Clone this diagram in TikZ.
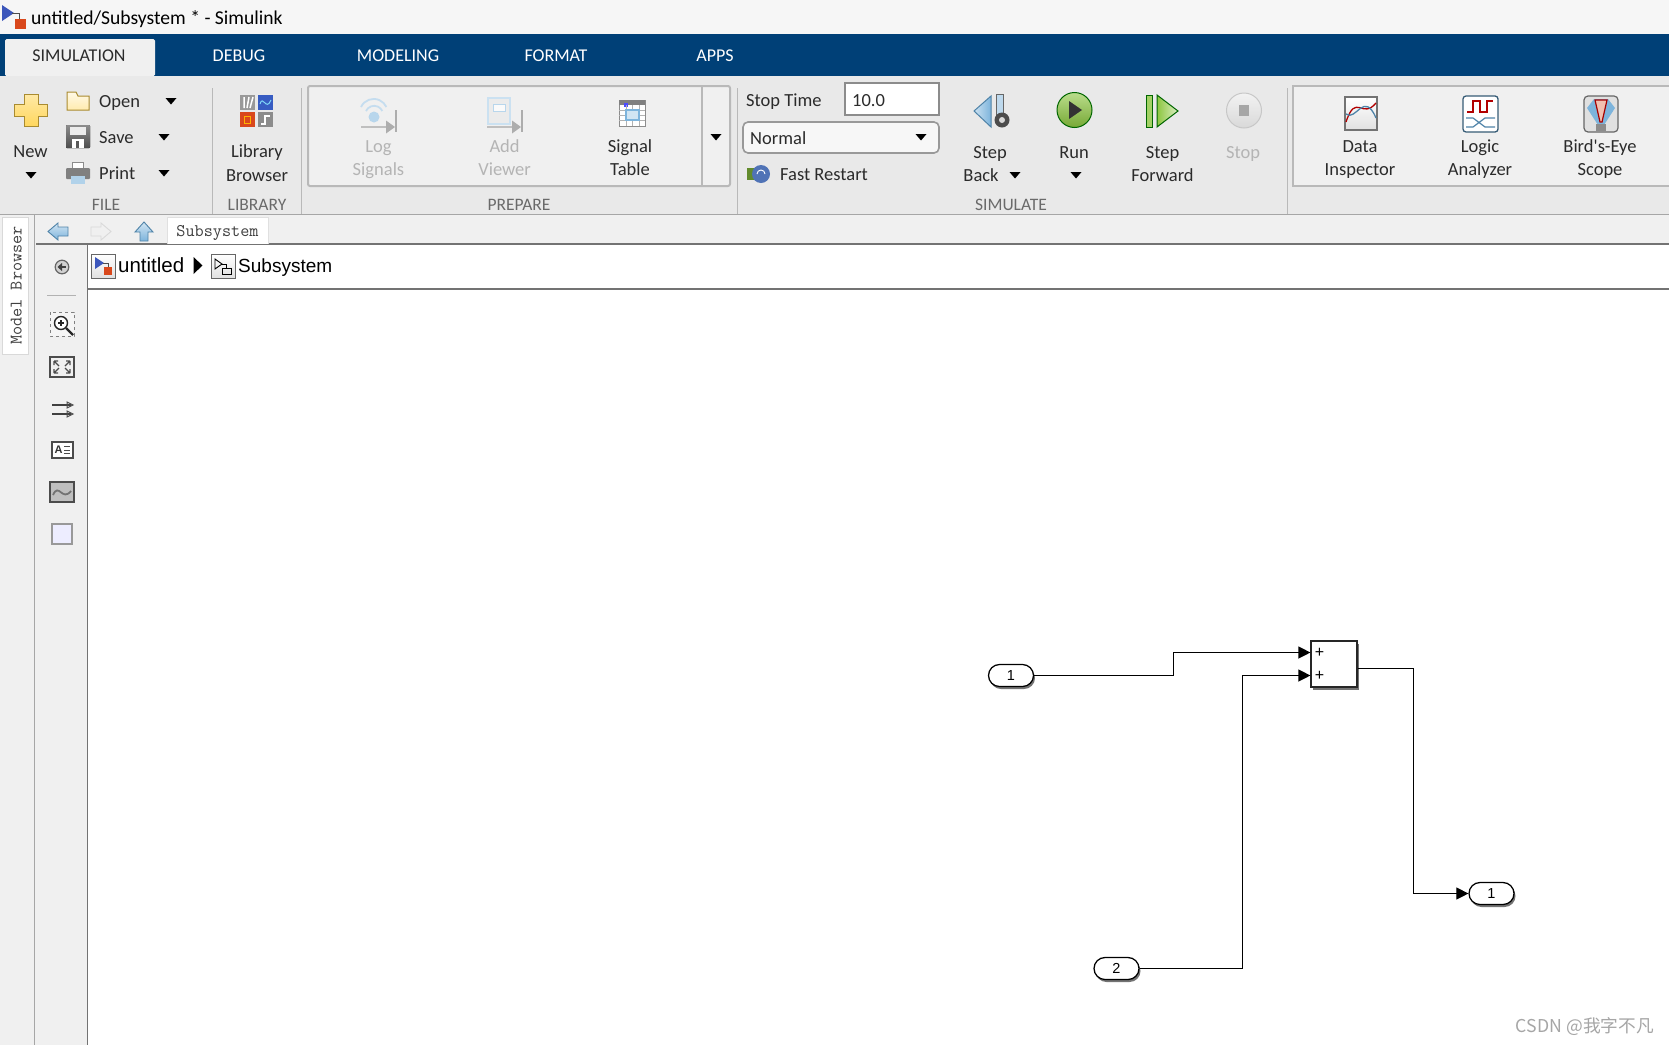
\documentclass[tikz,border=0pt]{standalone}
\usepackage{fontspec}
\usetikzlibrary{arrows.meta,shapes.misc,shadows,calc}
\setmainfont{Liberation Sans}
\newfontfamily\uifam{Carlito}
\newfontfamily\cjkfam{Noto Sans CJK SC}
\definecolor{bandblue}{HTML}{004077}
\definecolor{ribbon}{HTML}{E9E9E9}
\definecolor{paneg}{HTML}{F0F0F0}
\definecolor{rule}{HTML}{A6A6A6}
\definecolor{boxrule}{HTML}{B9B9B9}
\definecolor{uitext}{HTML}{2B2B2B}
\definecolor{dimtext}{HTML}{B4B4B4}
\definecolor{grouptext}{HTML}{6A6A6A}
\definecolor{iconblue}{HTML}{7DB4DC}
\definecolor{iconedge}{HTML}{4F83A8}
\definecolor{iconred}{HTML}{D9481C}
\definecolor{icongreen}{HTML}{8CC63F}
\definecolor{plusyellow}{HTML}{FFD75E}
\definecolor{plusedge}{HTML}{A98B30}
\tikzset{
  ui/.style={inner sep=0pt,text=uitext,text height=13pt,text depth=0pt,font=\uifam\fontsize{18.5}{22}\selectfont},
  uidim/.style={ui,text=dimtext},
  group/.style={ui,text=grouptext,font=\uifam\fontsize{17.5}{20}\selectfont},
  tabtext/.style={ui,text=white,font=\uifam\fontsize{18}{22}\selectfont},
  crumb/.style={inner sep=0pt,text=black,text height=14pt,text depth=0pt,font=\fontsize{19}{22}\selectfont},
  monotext/.style={inner sep=0pt,text=black!75,text height=12pt,text depth=0pt,font=\ttfamily\fontsize{17.7}{20}\selectfont},
  pill/.style={rounded rectangle,draw=black,line width=1.25pt,fill=white,minimum width=45pt,minimum height=22pt,inner sep=0pt,
    text height=10pt,text depth=0pt,font=\fontsize{14.5}{16}\selectfont,drop shadow={shadow xshift=1.5pt,shadow yshift=-2.5pt,opacity=.55,fill=black}},
  sumblock/.style={rectangle,draw=black!85,line width=1.2pt,fill=white,minimum width=46pt,minimum height=46pt,inner sep=0pt,
    drop shadow={shadow xshift=1.5pt,shadow yshift=-2.5pt,opacity=.55,fill=black}},
  portmark/.style={inner sep=0pt,font=\fontsize{16}{16}\selectfont},
  signal/.style={draw=black,line width=1.2pt,-{Triangle[length=12pt,width=12pt]}},
  sepline/.style={draw=rule,line width=1pt},
  toolframe/.style={draw=black!70,line width=1.1pt,fill=black!6},
}
\newcommand\dnarrow[1]{\fill[black] (#1) ++(-5.5,-3) -- ++(11,0) -- ++(-5.5,6.5) -- cycle;}
\begin{document}
\begin{tikzpicture}[x=1pt,y=-1pt,line join=miter]
\useasboundingbox (0,0) rectangle (1669,1045);
% --- backgrounds
\fill[white] (0,0) rectangle (1669,1045);
\fill[paneg!60!white] (0,0) rectangle (1669,34);
\fill[bandblue] (0,34) rectangle (1669,76);
\fill[ribbon] (0,76) rectangle (1669,214);
\fill[paneg] (0,214) rectangle (1669,244);
\fill[paneg] (0,244) rectangle (87,1045);
\draw[sepline] (0,214.5) -- (1669,214.5);
\draw[draw=black!55,line width=1.4pt] (36,244) -- (1669,244);
\draw[sepline] (34.5,214) -- (34.5,1045);
\draw[draw=black!55,line width=1.3pt] (87.8,244) -- (87.8,1045);
\draw[draw=black!55,line width=1.6pt] (88,289) -- (1669,289);
% --- title
\fill[iconblue!60!blue!80!black] (2,5) -- (14,13) -- (2,21) -- cycle;
\draw[black!70,line width=.8pt] (12,13) -- (19,13) -- (19,20);
\fill[iconred] (15,19) rectangle (26,29);
\node[ui,anchor=west,text=black,text height=15pt,font=\uifam\fontsize{19.6}{24}\selectfont] (title) at (31,16.5) {untitled/Subsystem * - Simulink};
% --- tabs
\fill[paneg,rounded corners=1.5pt] (5,76) -- (5,39) -- (155,39) -- (155,76) -- cycle;
\node[ui,font=\uifam\fontsize{18}{22}\selectfont] (tabsim) at (79,55) {SIMULATION};
\node[tabtext] (tabdebug) at (239,55) {DEBUG};
\node[tabtext] (tabmodel) at (398,55) {MODELING};
\node[tabtext] (tabformat) at (556,55) {FORMAT};
\node[tabtext] (tabapps) at (715,55) {APPS};
% --- separators in ribbon
\foreach \sx in {212,301.5,737,1287}{\draw[draw=boxrule,line width=1pt] (\sx,88) -- (\sx,214);}
% --- FILE group
\draw[draw=plusedge,line width=1pt,top color=plusyellow!55!white,bottom color=plusyellow]
  (24,94) -- (38,94) -- (38,104) -- (47.5,104) -- (47.5,116) -- (38,116) -- (38,126) -- (24,126) -- (24,116) -- (14.5,116) -- (14.5,104) -- (24,104) -- cycle;
\node[ui] (newtxt) at (30.5,151) {New};
\dnarrow{31,175}
\draw[draw=plusedge,line width=1pt,top color=plusyellow!15!white,bottom color=plusyellow!50!white] (67,110) -- (67,92) -- (76,92) -- (78,96) -- (89,96) -- (89,110) -- cycle;
\node[ui,anchor=west] (opentxt) at (99,101) {Open};
\dnarrow{171,101}
\fill[top color=black!45,bottom color=black!70,rounded corners=1pt] (66,125) rectangle (90,148);
\fill[black!8] (70,127) rectangle (86,135);
\fill[white] (72,139) rectangle (84,148);
\fill[black!65] (76,141) rectangle (79,148);
\node[ui,anchor=west] (savetxt) at (99,137) {Save};
\dnarrow{164,137}
\fill[black!45] (72,162) rectangle (84,170);
\fill[white] (73,163) rectangle (83,170);
\fill[black!50,rounded corners=1pt] (66,168) rectangle (90,179);
\fill[iconblue!60] (71,176) rectangle (85,184);
\node[ui,anchor=west] (printtxt) at (99,173) {Print};
\dnarrow{164,173}
\node[group] (filelab) at (106,204) {FILE};
% --- LIBRARY group
\fill[black!40] (240,95) rectangle (255,110);
\draw[white,line width=1.5pt] (244,97) -- (244,108) (249,97) -- (247,108) (253,97) -- (250,108);
\fill[iconedge!70!blue] (258,95) rectangle (273,110);
\draw[cyan!50!white,line width=1pt] (260,104) .. controls (263,94) and (266,112) .. (271,100);
\fill[iconred] (240,112) rectangle (255,127);
\draw[orange!60!yellow,line width=1pt] (244,116) rectangle (250,123);
\fill[black!45] (258,112) rectangle (273,127);
\draw[white,line width=1.2pt] (261,124) -- (265,124) -- (265,116) -- (270,116);
\node[ui] (libtxt1) at (257,150.5) {Library};
\node[ui] (libtxt2) at (257,175) {Browser};
\node[group] (liblab) at (257,204) {LIBRARY};
% --- PREPARE group
\draw[draw=boxrule,line width=2pt,fill=paneg,rounded corners=2pt] (308,86) rectangle (730,186);
\draw[draw=boxrule,line width=1.5pt] (702,86) -- (702,186);
\dnarrow{716,137}
\draw[iconblue!45,line width=1.8pt] (361,107) arc[start angle=205,end angle=335,radius=14];
\draw[iconblue!45,line width=1.8pt] (366,111) arc[start angle=205,end angle=335,radius=9];
\fill[iconblue!55] (374,117) circle (5.5);
\draw[black!25,line width=1.4pt] (361,127) -- (390,127);
\fill[black!32] (386,120.5) -- (395,127) -- (386,133.5) -- cycle;
\draw[black!32,line width=1.5pt] (396,110) -- (396,132);
\node[uidim] (logtxt1) at (378.5,146) {Log};
\node[uidim] (logtxt2) at (378.5,169) {Signals};
\draw[iconblue!40,line width=1.3pt,fill=black!8] (488,98) rectangle (510,124);
\draw[iconblue!55,line width=1pt,fill=black!2] (493,104) rectangle (505,111);
\draw[black!25,line width=1.4pt] (487,127) -- (516,127);
\fill[black!32] (512,120.5) -- (521,127) -- (512,133.5) -- cycle;
\draw[black!32,line width=1.5pt] (522,110) -- (522,132);
\node[uidim] (addtxt1) at (504.6,146) {Add};
\node[uidim] (addtxt2) at (504.6,169) {Viewer};
\draw[black!45,line width=.9pt,fill=white] (619,100) rectangle (645,126);
\fill[black!50] (619,100) rectangle (645,105);
\fill[blue!70] (624,103) rectangle (628,107);
\draw[black!30,line width=.6pt] (619,110) -- (645,110) (619,115) -- (645,115) (619,120) -- (645,120) (626,105) -- (626,126) (632,105) -- (632,126) (639,105) -- (639,126);
\draw[iconblue,line width=1.2pt,fill=iconblue!35] (626,110) rectangle (639,120);
\node[ui] (sigtxt1) at (630,146) {Signal};
\node[ui] (sigtxt2) at (630,169) {Table};
\node[group] (prelab) at (519,204) {PREPARE};
% --- SIMULATE group
\node[ui,anchor=west] (stoptxt) at (746,100) {Stop Time};
\draw[draw=black!45,line width=1.6pt,fill=white] (845,83) rectangle (939,115);
\node[ui,anchor=west] (stopval) at (852,100) {10.0};
\draw[draw=black!40,line width=1.6pt,fill=black!3,rounded corners=5pt] (743,122) rectangle (939,153);
\node[ui,anchor=west] (normtxt) at (750,138) {Normal};
\dnarrow{921,137}
\fill[icongreen!70!black] (747,168) rectangle (756,180);
\fill[iconblue!80!blue!80!black] (761,174) circle (9);
\draw[white,line width=.9pt] (757,174) arc[start angle=180,end angle=360,radius=4];
\node[ui,anchor=west] (fasttxt) at (780,174) {Fast Restart};
% step back
\draw[draw=iconedge,line width=1pt,left color=iconblue!40,right color=iconblue] (974,111) -- (991,96) -- (991,127) -- cycle;
\draw[draw=black!60,line width=.8pt,fill=iconblue!50] (996,94) rectangle (1003,118);
\fill[black!70] (1002,120) circle (7.5);
\fill[black!15] (1002,120) circle (3);
\node[ui] (backtxt1) at (990,152) {Step};
\node[ui] (backtxt2) at (981,175) {Back};
\dnarrow{1015,175}
% run
\draw[draw=green!40!black,line width=1pt,top color=icongreen!60!white,bottom color=icongreen!85!black] (1074.5,110) circle (17.5);
\fill[black!80] (1069,101) -- (1082,110) -- (1069,119) -- cycle;
\node[ui] (runtxt) at (1074,152) {Run};
\dnarrow{1076,175}
% step forward
\draw[draw=green!40!black,line width=.9pt,fill=icongreen!80] (1146,95) rectangle (1152,127);
\draw[draw=green!40!black,line width=1pt,left color=icongreen,right color=icongreen!30!white] (1157,95) -- (1178,111) -- (1157,127) -- cycle;
\node[ui] (fwdtxt1) at (1162.5,152) {Step};
\node[ui] (fwdtxt2) at (1162.5,175) {Forward};
% stop
\draw[draw=black!22,line width=1pt,top color=black!5,bottom color=black!15] (1244,110.5) circle (17.5);
\fill[black!35] (1239,105) rectangle (1249,116);
\node[uidim] (stoptxt2) at (1243,152) {Stop};
\node[group] (simlab) at (1011,204) {SIMULATE};
% --- right group
\draw[draw=boxrule,line width=2pt,fill=paneg] (1672,86) -- (1293,86) -- (1293,186) -- (1672,186);
\draw[draw=black!55,line width=1.2pt,top color=white,bottom color=black!12] (1345,97) rectangle (1377,130);
\draw[red!70!black,line width=1.3pt] (1346,122) .. controls (1356,92) and (1362,120) .. (1376,103);
\draw[iconedge,line width=1.3pt] (1346,114) .. controls (1356,122) and (1364,90) .. (1376,118);
\node[ui] (dtxt1) at (1360,146) {Data};
\node[ui] (dtxt2) at (1360,169) {Inspector};
\draw[draw=iconedge!70!black,line width=1.3pt,fill=white,rounded corners=3pt] (1463,96) rectangle (1498,132);
\draw[red!70!black,line width=1.2pt] (1467,112) -- (1473,112) -- (1473,101) -- (1480,101) -- (1480,112) -- (1487,112) -- (1487,101) -- (1493,101);
\draw[iconedge,line width=1.2pt] (1466,118) -- (1473,118) -- (1485,127) -- (1495,127) (1466,127) -- (1473,127) -- (1485,118) -- (1495,118);
\node[ui] (ltxt1) at (1480,146) {Logic};
\node[ui] (ltxt2) at (1480,169) {Analyzer};
\draw[draw=black!60,line width=1.2pt,fill=black!12,rounded corners=4pt] (1584,96) rectangle (1618,132);
\fill[iconblue] (1587,108) -- (1594,99) -- (1608,99) -- (1615,108) -- (1604,125) -- (1598,125) -- cycle;
\draw[red!65!black,line width=1.2pt,fill=iconred!35] (1595,100) -- (1607,100) -- (1602,122) -- (1600,122) -- cycle;
\fill[black!45] (1596,124) rectangle (1606,131);
\node[ui] (btxt1) at (1600,146) {Bird's-Eye};
\node[ui] (btxt2) at (1600,169) {Scope};
% --- browser strip and nav
\draw[draw=black!15,line width=1pt,fill=white] (2,217) rectangle (28,354);
\node[monotext,rotate=90] (mbrowser) at (15.5,285.5) {Model Browser};
\draw[draw=iconedge,line width=.9pt,top color=iconblue!35,bottom color=iconblue] (48,231.5) -- (58,223) -- (58,227) -- (68,227) -- (68,236) -- (58,236) -- (58,240) -- cycle;
\draw[draw=black!15,line width=.9pt,fill=black!6] (111,231.5) -- (101,223) -- (101,227) -- (91,227) -- (91,236) -- (101,236) -- (101,240) -- cycle;
\draw[draw=iconedge,line width=.9pt,top color=iconblue!35,bottom color=iconblue] (144,222) -- (153,232) -- (148,232) -- (148,241) -- (140,241) -- (140,232) -- (135,232) -- cycle;
\draw[draw=black!12,line width=1pt,fill=white] (167,244) -- (167,217) -- (268,217) -- (268,244);
\node[monotext] (subtab) at (217.5,230.5) {Subsystem};
% --- breadcrumb
\draw[draw=black!60,line width=1pt,top color=white,bottom color=black!12] (91,254) rectangle (115,278);
\fill[iconblue!60!blue!80!black] (95,257) -- (104,263) -- (95,269) -- cycle;
\draw[black!70,line width=.7pt] (103,263) -- (108,263) -- (108,268);
\fill[iconred] (104,267) rectangle (112,275);
\node[crumb,anchor=west,font=\fontsize{20.5}{22}\selectfont] (crumb1) at (118,265) {untitled};
\fill[black] (193.5,257) -- (202.5,265.5) -- (193.5,274) -- cycle;
\draw[draw=black!60,line width=1pt,top color=white,bottom color=black!12] (211,254) rectangle (235,278);
\draw[black,line width=.9pt] (215,259) -- (222,264) -- (215,269) -- cycle;
\draw[black,line width=.9pt] (221,264) -- (226,264) -- (226,268);
\draw[black,line width=.9pt] (222,268) rectangle (231,274);
\node[crumb,anchor=west] (crumb2) at (238,265) {Subsystem};
% --- palette
\draw[black!60,line width=1.2pt,fill=black!18] (62,267) circle (6.8);
\fill[black!75] (57.5,267) -- (62,263) -- (62,271) -- cycle;
\draw[black!75,line width=1.2pt] (61,267) -- (66,267);
\draw[draw=black!30,line width=1pt] (47,295) -- (76,295);
\draw[black!50,line width=.8pt,dashed,fill=black!4] (50,312) rectangle (74,336);
\draw[black!85,line width=1.4pt,fill=white] (61,323) circle (6.5);
\draw[black!85,line width=2.2pt] (66,328) -- (73,335);
\draw[black!85,line width=1.1pt] (58,323) -- (64,323) (61,320) -- (61,326);
\draw[toolframe] (50,357) rectangle (74,377);
\draw[black!70,line width=1.3pt] (54,361) -- (58,361) (54,361) -- (54,365) (70,361) -- (66,361) (70,361) -- (70,365) (54,373) -- (58,373) (54,373) -- (54,369) (70,373) -- (66,373) (70,373) -- (70,369) (54,361) -- (59,366) (70,361) -- (65,366) (54,373) -- (59,368) (70,373) -- (65,368);
\draw[black!75,line width=1.2pt] (52,405) -- (71,405) (52,414) -- (71,414);
\draw[black!70,line width=1pt] (67,402) -- (73,405) -- (67,408) -- cycle (67,411) -- (73,414) -- (67,417) -- cycle;
\draw[toolframe,fill=white] (52,442) rectangle (73,458);
\node[inner sep=0pt,font=\bfseries\fontsize{11}{12}\selectfont,text=black!80] (annota) at (58.5,450) {A};
\draw[black!70,line width=.9pt] (64,446.5) -- (70,446.5) (64,450) -- (70,450) (64,453.5) -- (70,453.5);
\draw[toolframe,fill=black!25] (50,482) rectangle (74,502);
\draw[black!55,line width=1.8pt] (53,495) .. controls (59,482) and (62,502) .. (71,491);
\draw[draw=black!40,line width=1.2pt,fill=blue!7] (52,524) rectangle (72,544);
% --- diagram
\node[pill] (in1) at (1011,675.5) {1};
\node[pill] (in2) at (1116.5,968.5) {2};
\node[sumblock] (sum) at (1334,664) {};
\node[pill] (out1) at (1491.5,893.5) {1};
\node[portmark] (plus1) at (1319.5,652.5) {+};
\node[portmark] (plus2) at (1319.5,675.5) {+};
\coordinate (sumin1) at (sum.west |- plus1);
\coordinate (sumin2) at (sum.west |- plus2);
\coordinate (sumout) at ($(sum.east)+(0,4.5)$);
\coordinate (bend1) at (1173.5,675.5);
\coordinate (bend2) at (1173.5,652.5);
\coordinate (bend3) at (1242.5,968.5);
\coordinate (bend4) at (1242.5,675.5);
\coordinate (bend5) at (1413.5,668.5);
\coordinate (bend6) at (1413.5,893.5);
\draw[signal] (in1.east) -- (bend1) -- (bend2) -- (sumin1);
\draw[signal] (in2.east) -- (bend3) -- (bend4) -- (sumin2);
\draw[signal] (sumout) -- (bend5) -- (bend6) -- (out1.west);
% --- watermark
\node[inner sep=0pt,text=black!35,font=\cjkfam\fontsize{17.7}{22}\selectfont,anchor=east] (mark) at (1654,1027) {CSDN @我字不凡};
\end{tikzpicture}
\end{document}
